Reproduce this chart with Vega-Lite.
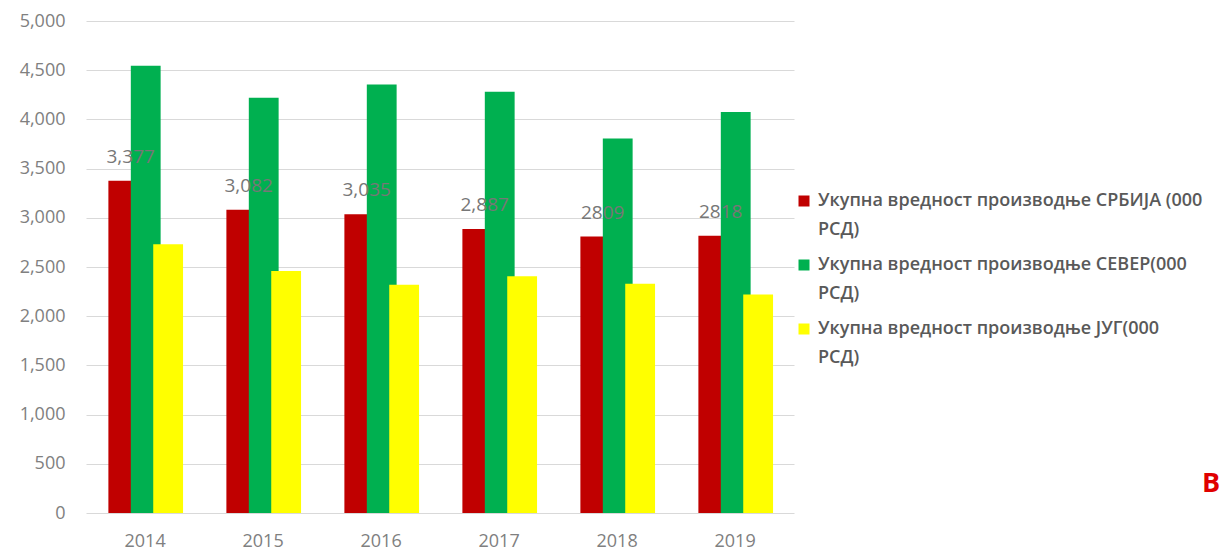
{
  "$schema": "https://vega.github.io/schema/vega-lite/v6.json",
  "autosize": "none",
  "padding": {"left": 86, "top": 21, "right": 429, "bottom": 40},
  "width": 708,
  "height": 492,
  "background": "white",
  "title": {
    "text": "В",
    "orient": "top",
    "anchor": "start",
    "frame": "group",
    "offset": 0,
    "baseline": "alphabetic",
    "dx": 1116,
    "dy": 507,
    "font": "Open Sans",
    "fontSize": 27,
    "fontWeight": "bold",
    "color": "#e00000"
  },
  "data": {
    "values": [
      {"year": "2014", "series": "Укупна вредност производње СРБИЈА (000 РСД)", "value": 3377, "label": "3,377"},
      {"year": "2014", "series": "Укупна вредност производње СЕВЕР(000 РСД)", "value": 4545, "label": ""},
      {"year": "2014", "series": "Укупна вредност производње ЈУГ(000 РСД)", "value": 2730, "label": ""},
      {"year": "2015", "series": "Укупна вредност производње СРБИЈА (000 РСД)", "value": 3082, "label": "3,082"},
      {"year": "2015", "series": "Укупна вредност производње СЕВЕР(000 РСД)", "value": 4220, "label": ""},
      {"year": "2015", "series": "Укупна вредност производње ЈУГ(000 РСД)", "value": 2460, "label": ""},
      {"year": "2016", "series": "Укупна вредност производње СРБИЈА (000 РСД)", "value": 3035, "label": "3,035"},
      {"year": "2016", "series": "Укупна вредност производње СЕВЕР(000 РСД)", "value": 4355, "label": ""},
      {"year": "2016", "series": "Укупна вредност производње ЈУГ(000 РСД)", "value": 2320, "label": ""},
      {"year": "2017", "series": "Укупна вредност производње СРБИЈА (000 РСД)", "value": 2887, "label": "2,887"},
      {"year": "2017", "series": "Укупна вредност производње СЕВЕР(000 РСД)", "value": 4280, "label": ""},
      {"year": "2017", "series": "Укупна вредност производње ЈУГ(000 РСД)", "value": 2405, "label": ""},
      {"year": "2018", "series": "Укупна вредност производње СРБИЈА (000 РСД)", "value": 2809, "label": "2809"},
      {"year": "2018", "series": "Укупна вредност производње СЕВЕР(000 РСД)", "value": 3805, "label": ""},
      {"year": "2018", "series": "Укупна вредност производње ЈУГ(000 РСД)", "value": 2330, "label": ""},
      {"year": "2019", "series": "Укупна вредност производње СРБИЈА (000 РСД)", "value": 2818, "label": "2818"},
      {"year": "2019", "series": "Укупна вредност производње СЕВЕР(000 РСД)", "value": 4075, "label": ""},
      {"year": "2019", "series": "Укупна вредност производње ЈУГ(000 РСД)", "value": 2220, "label": ""}
    ]
  },
  "encoding": {
    "x": {
      "field": "year", "type": "nominal", "title": null,
      "scale": {"paddingInner": 0.43, "paddingOuter": 0.215, "align": 0.66},
      "axis": {"labelAngle": 0, "domain": false, "ticks": false, "labelPadding": 19, "labelOffset": -8, "grid": false}
    },
    "xOffset": {
      "field": "series", "type": "nominal",
      "scale": {"domain": ["Укупна вредност производње СРБИЈА (000 РСД)", "Укупна вредност производње СЕВЕР(000 РСД)", "Укупна вредност производње ЈУГ(000 РСД)"], "paddingInner": 0, "paddingOuter": 0}
    },
    "y": {
      "field": "value", "type": "quantitative", "title": null,
      "scale": {"domain": [0, 5000], "nice": false},
      "axis": {"values": [0, 500, 1000, 1500, 2000, 2500, 3000, 3500, 4000, 4500, 5000], "format": ",d", "domain": false, "ticks": false, "labelPadding": 21, "gridColor": "#d9d9d9", "gridWidth": 1}
    }
  },
  "layer": [
    {
      "mark": {"type": "bar", "width": {"band": 1.33}},
      "encoding": {
        "color": {
          "field": "series", "type": "nominal",
          "scale": {
            "domain": ["Укупна вредност производње СРБИЈА (000 РСД)", "Укупна вредност производње СЕВЕР(000 РСД)", "Укупна вредност производње ЈУГ(000 РСД)"],
            "range": ["#c00000", "#00b050", "#ffff00"]
          },
          "legend": {
            "title": null,
            "orient": "none",
            "legendX": 709,
            "legendY": 171,
            "padding": 0,
            "symbolType": "square",
            "symbolSize": 121,
            "labelFont": "Open Sans",
            "labelFontSize": 18,
            "labelFontWeight": 600,
            "labelColor": "#595959",
            "labelLimit": 420,
            "labelOffset": 5,
            "rowPadding": 17,
            "labelExpr": "[replace(datum.label, ' РСД)', ''), 'РСД)']",
            "encode": {"labels": {"update": {"lineHeight": {"value": 29}}}}
          }
        }
      }
    },
    {
      "transform": [{"filter": "datum.label != ''"}],
      "mark": {"type": "text", "baseline": "middle", "dy": -24, "fontSize": 19, "font": "Open Sans", "color": "#777777"},
      "encoding": {"text": {"field": "label"}}
    }
  ],
  "config": {
    "view": {"stroke": null},
    "axis": {"labelFont": "Open Sans", "labelFontSize": 18, "labelColor": "#808080"}
  }
}
